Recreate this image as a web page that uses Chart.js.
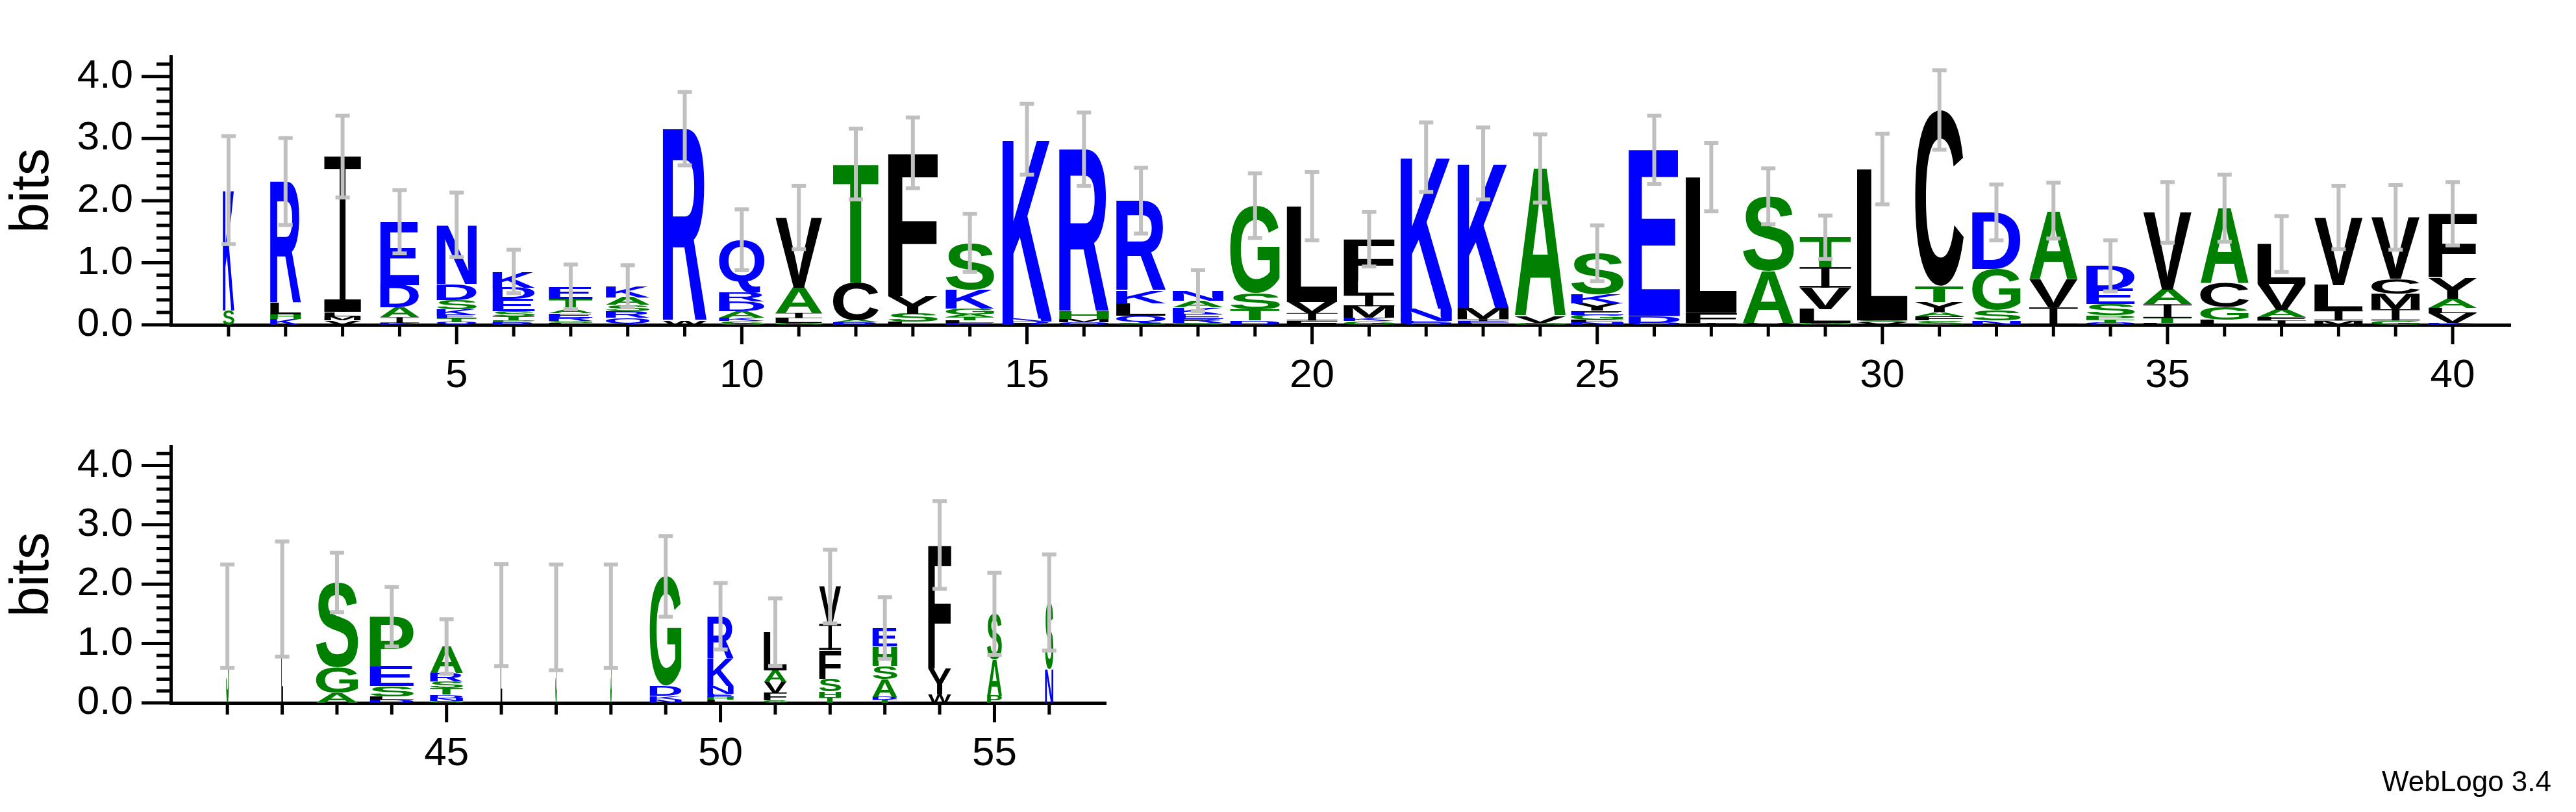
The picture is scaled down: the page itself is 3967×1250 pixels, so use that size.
<!DOCTYPE html>
<html>
<head>
<meta charset="UTF-8">
<title>WebLogo</title>
<script src="https://cdn.jsdelivr.net/npm/chart.js"></script>
<style>
  body { margin: 0; background: #fff; width: 3967px; height: 1250px; position: relative; overflow: hidden; }
  canvas { position: absolute; left: 0; }
  #top { top: 0; }
  #bottom { top: 600px; }
  #credit { position: absolute; right: 38px; top: 1178px; font: 44px "Liberation Sans", Arial, sans-serif; }
</style>
</head>
<body>
<canvas id="top" width="3967" height="640"></canvas>
<canvas id="bottom" width="3967" height="640"></canvas>
<div id="credit">WebLogo 3.4</div>
<script>
// letters listed bottom -> top, heights in bits
const topLetters = ['SK','KHLR','VMLI','KIADE','QTEKSDN','RPTSEDK','LGREATE','QRSAK','WR','SKADRQ',
  'GLIAV','RACT','LSYF','ELTAGKS','RNK','QMHR','SQLKR','SREKAN','DTSG','FIVL',
  'GKMILF','QENK','LEIMK','GVA','NFGEYKS','QDE','IFL','VAS','GLVIT','VSL',
  'SFAYTC','NSGD','IVA','QTPSED','LTIAV','LGCA','IFAVL','MILV','GIMCV','KVLAYF'];
const topHeights = [
  [.23,1.94],[.09,.08,.18,1.96],[.07,.07,.07,2.5],[.03,.09,.16,.36,1.02],[.05,.05,.06,.09,.15,.26,.95],
  [.04,.03,.07,.08,.2,.18,.26],[.03,.03,.06,.07,.07,.16,.19],[.11,.11,.1,.12,.18],[.06,3.1],[.06,.05,.11,.16,.14,.85],
  [.03,.08,.08,.41,1.13],[.04,.04,.6,1.91],[.05,.13,.28,2.31],[.03,.04,.05,.05,.09,.31,.75],[.05,.05,2.89],
  [.04,.05,.12,2.62],[.03,.12,.2,.2,1.45],[.03,.06,.08,.11,.11,.16],[.07,.18,.26,1.41],[.07,.12,.18,1.54],
  [.06,.05,.19,.18,.23,.67],[.03,.03,.2,2.44],[.03,.03,.03,.18,2.33],[.03,.11,2.38],[.04,.04,.08,.07,.12,.14,.66],
  [.03,.11,2.68],[.03,.16,2.19],[.03,.84,1.2],[.03,.22,.35,.33,.48],[.04,.03,2.44],
  [.07,.07,.07,.16,.26,2.83],[.07,.17,.66,.91],[.28,.46,1.1],[.03,.05,.07,.18,.25,.37],[.03,.08,.22,.24,1.24],
  [.08,.21,.38,1.21],[.07,.05,.12,.42,.64],[.07,.16,.41,1.09],[.07,.18,.25,.24,.99],[.03,.16,.08,.15,.34,1.03]];
const topWidths = [.2,.54,.64,.68,.7,.74,.77,.77,.77,.8,.82,.8,.87,.85,.86,.87,.87,.89,.87,.89,
  .89,.9,.9,.9,.92,.9,.9,.9,.9,.89,.85,.85,.85,.85,.85,.85,.85,.85,.85,.85];
const topErrors = [.87,.70,.66,.51,.52,.35,.36,.34,.59,.49,.51,.57,.57,.47,.57,.59,.53,.33,.52,.55,
  .44,.56,.58,.55,.45,.55,.55,.45,.35,.57,.64,.45,.45,.41,.49,.54,.45,.51,.52,.51];

const bottomLetters = ['S','L','AGS','DLSEP','GNDTSRA','L','S','S','NKDG','LHENKR','GFVAL','THSFIV','TDASHE','WYF','PAS','NS'];
const bottomHeights = [[1.46],[1.75],[.17,.43,1.43],[.06,.05,.17,.33,.84],[.03,.05,.06,.11,.11,.14,.45],
  [1.48],[1.44],[1.46],[.06,.06,.17,1.84],[.05,.05,.05,.13,.47,.71],[.04,.12,.19,.2,.64],
  [.09,.1,.22,.48,.44,.63],[.05,.05,.3,.22,.33,.31],[.14,.44,2.08],[.12,.61,.77],[.56,1.13]];
const bottomWidths = [.05,.03,.77,.8,.6,.03,.03,.03,.58,.48,.42,.4,.45,.42,.27,.15];
const bottomErrors = [.87,.97,.5,.5,.46,.86,.89,.87,.68,.56,.57,.62,.52,.74,.69,.81];

const colorOf = ch => 'RKDENQ'.includes(ch) ? '#0000ff' : ('SGHTAP'.includes(ch) ? '#008000' : '#000000');
const FONT = '"Liberation Sans", Arial, sans-serif';

function drawLetter(ctx, ch, x0, x1, yTop, yBot) {
  const h = yBot - yTop, w = x1 - x0;
  if (h < 0.5) return;
  ctx.save();
  ctx.fillStyle = colorOf(ch);
  if (ch === 'I') {
    // serif capital I like the WebLogo font
    const bar = Math.max(h * 0.08, 0.5), stem = w * 0.16;
    ctx.fillRect(x0, yTop, w, bar);
    ctx.fillRect(x0, yBot - bar, w, bar);
    ctx.fillRect(x0 + (w - stem) / 2, yTop, stem, h);
    ctx.restore();
    return;
  }
  ctx.font = 'bold 200px ' + FONT;
  const m = ctx.measureText(ch);
  const l = m.actualBoundingBoxLeft, r = m.actualBoundingBoxRight;
  const a = m.actualBoundingBoxAscent, d = m.actualBoundingBoxDescent;
  ctx.translate(x0, yTop);
  ctx.scale(w / (l + r), h / (a + d));
  ctx.fillText(ch, l, a);
  ctx.restore();
}

const logoPlugin = {
  id: 'logo',
  afterDatasetsDraw(chart) {
    const ctx = chart.ctx, xs = chart.scales.x, ys = chart.scales.y;
    const o = chart.options.plugins.logo;
    o.letters.forEach((str, i) => {
      const pos = o.first + i;
      const w = o.widths[i] / 2;
      const x0 = xs.getPixelForValue(pos - w), x1 = xs.getPixelForValue(pos + w);
      let base = 0;
      [...str].forEach((ch, j) => {
        const h = o.heights[i][j];
        drawLetter(ctx, ch, x0, x1, ys.getPixelForValue(base + h), ys.getPixelForValue(base));
        base += h;
      });
      // error bar
      const xc = xs.getPixelForValue(pos);
      const yHi = ys.getPixelForValue(base + o.errors[i]), yLo = ys.getPixelForValue(base - o.errors[i]);
      ctx.save();
      ctx.strokeStyle = '#c0c0c0';
      ctx.lineWidth = 6;
      ctx.beginPath();
      ctx.moveTo(xc, yHi); ctx.lineTo(xc, yLo);
      ctx.moveTo(xc - 11, yHi); ctx.lineTo(xc + 11, yHi);
      ctx.moveTo(xc - 11, yLo); ctx.lineTo(xc + 11, yLo);
      ctx.stroke();
      ctx.restore();
    });
    // tick marks
    ctx.save();
    ctx.strokeStyle = '#000';
    ctx.lineWidth = 5;
    ctx.beginPath();
    for (let k = 0; k <= 21; k++) {
      const v = k / 5, y = ys.getPixelForValue(v);
      const len = k % 5 === 0 ? 45 : 22;
      ctx.moveTo(xs.left - len, y); ctx.lineTo(xs.left, y);
    }
    for (let p = o.first; p < o.first + o.letters.length; p++) {
      const x = xs.getPixelForValue(p);
      const len = p % 5 === 0 ? 30 : 18;
      ctx.moveTo(x, ys.bottom); ctx.lineTo(x, ys.bottom + len);
    }
    ctx.stroke();
    ctx.restore();
  }
};

function makeLogo(id, first, letters, heights, widths, errors, padding, xAxisHeight) {
  const layers = Math.max(...letters.map(s => s.length));
  const positions = letters.map((s, i) => first + i);
  const datasets = [];
  for (let j = 0; j < layers; j++) {
    datasets.push({
      data: letters.map((s, i) => {
        if (j >= s.length) return null;
        const below = heights[i].slice(0, j).reduce((a, b) => a + b, 0);
        return { x: first + i, y: [below, below + heights[i][j]] };
      }),
      backgroundColor: 'rgba(0,0,0,0)',
      borderWidth: 0
    });
  }
  new Chart(document.getElementById(id), {
    type: 'bar',
    data: { datasets },
    plugins: [logoPlugin],
    options: {
      responsive: false,
      animation: false,
      layout: { padding },
      plugins: {
        legend: { display: false },
        tooltip: { enabled: false },
        logo: { first, letters, heights, widths, errors }
      },
      scales: {
        x: {
          type: 'linear',
          min: first - 0.5,
          max: first + letters.length - 0.5,
          grid: { display: false },
          border: { color: '#000', width: 5 },
          afterFit: s => { s.height = xAxisHeight; },
          afterBuildTicks: s => { s.ticks = positions.map(v => ({ value: v })); },
          ticks: {
            autoSkip: false, maxRotation: 0, padding: 34,
            color: '#000', font: { size: 62, family: FONT },
            callback: v => (v % 5 === 0 ? String(v) : '')
          }
        },
        y: {
          min: 0, max: 4.32,
          grid: { display: false },
          border: { color: '#000', width: 5 },
          afterFit: s => { s.width = 263; },
          title: { display: true, text: 'bits', color: '#000', font: { size: 84, family: FONT }, padding: 0 },
          ticks: {
            stepSize: 0.2, autoSkip: false, padding: 50,
            color: '#000', font: { size: 62, family: FONT },
            callback: v => (Math.abs(v - Math.round(v)) < 1e-6 ? v.toFixed(1) : '')
          }
        }
      }
    }
  });
}

makeLogo('top', 1, topLetters, topHeights, topWidths, topErrors,
  { top: 46, right: 101, left: 0, bottom: 0 }, 140);
makeLogo('bottom', 41, bottomLetters, bottomHeights, bottomWidths, bottomErrors,
  { top: 34, right: 2264, left: 0, bottom: 0 }, 158);
</script>
</body>
</html>
